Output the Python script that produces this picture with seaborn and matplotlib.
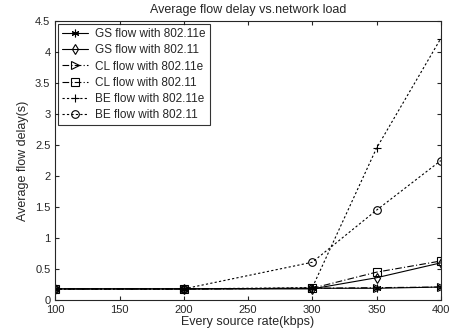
import matplotlib
matplotlib.use("Agg")
import matplotlib.pyplot as plt
import seaborn as sns
import pandas as pd

# source rate (kbps)
rates = [100, 200, 300, 350, 400]

gs_e = [0.18, 0.18, 0.19, 0.19, 0.21]
gs_11 = [0.18, 0.18, 0.18, 0.36, 0.60]
cl_e = [0.18, 0.18, 0.19, 0.20, 0.21]
cl_11 = [0.18, 0.18, 0.19, 0.45, 0.63]
be_e = [0.18, 0.18, 0.20, 2.45, 4.22]
be_11 = [0.18, 0.18, 0.61, 1.45, 2.25]

labels = ["GS flow with 802.11e", "GS flow with 802.11",
          "CL flow with 802.11e", "CL flow with 802.11",
          "BE flow with 802.11e", "BE flow with 802.11"]
series = [gs_e, gs_11, cl_e, cl_11, be_e, be_11]

df = pd.DataFrame({
    "rate": rates * len(series),
    "delay": [v for s in series for v in s],
    "flow": [lab for lab in labels for _ in rates],
})

sns.set_style("ticks")
plt.rcParams['font.family'] = ['Liberation Sans', 'DejaVu Sans']

fig, ax = plt.subplots(figsize=(4.53, 3.36), dpi=100)

styles = {
    labels[0]: ("-", (6, 2, 0)),
    labels[1]: ("-", "d"),
    labels[2]: ((0, (6, 2, 1, 2)), ">"),
    labels[3]: ((0, (6, 2, 1, 2)), "s"),
    labels[4]: ((0, (2, 2)), "+"),
    labels[5]: ((0, (2, 2)), "o"),
}

for lab in labels:
    ls, mk = styles[lab]
    sub = df[df["flow"] == lab]
    sns.lineplot(data=sub, x="rate", y="delay", ax=ax, color="black",
                 linestyle=ls, linewidth=0.8, marker=mk, markersize=5.5,
                 markerfacecolor="none", markeredgecolor="black",
                 markeredgewidth=0.8, label=lab)

ax.set_xlim(100, 400)
ax.set_ylim(0, 4.5)
ax.set_xticks([100, 150, 200, 250, 300, 350, 400])
ax.set_yticks([0, 0.5, 1, 1.5, 2, 2.5, 3, 3.5, 4, 4.5])
ax.set_yticklabels(["0", "0.5", "1", "1.5", "2", "2.5", "3", "3.5", "4", "4.5"])
ax.tick_params(direction="in", labelsize=8, length=3, top=True, right=True)
for sp in ax.spines.values():
    sp.set_visible(True)
    sp.set_linewidth(0.8)

ax.set_title("Average flow delay vs.network load", fontsize=9)
ax.set_xlabel("Every source rate(kbps)", fontsize=9, labelpad=1)
ax.set_ylabel("Average flow delay(s)", fontsize=9)

leg = ax.legend(loc="upper left", fontsize=8.5, frameon=True, fancybox=False,
                edgecolor="black", handlelength=2.2, borderpad=0.35,
                labelspacing=0.35, handletextpad=0.6, borderaxespad=0.25)
leg.get_frame().set_linewidth(0.8)

plt.subplots_adjust(left=0.122, right=0.973, top=0.937, bottom=0.107)
plt.savefig("out.png", dpi=100)
